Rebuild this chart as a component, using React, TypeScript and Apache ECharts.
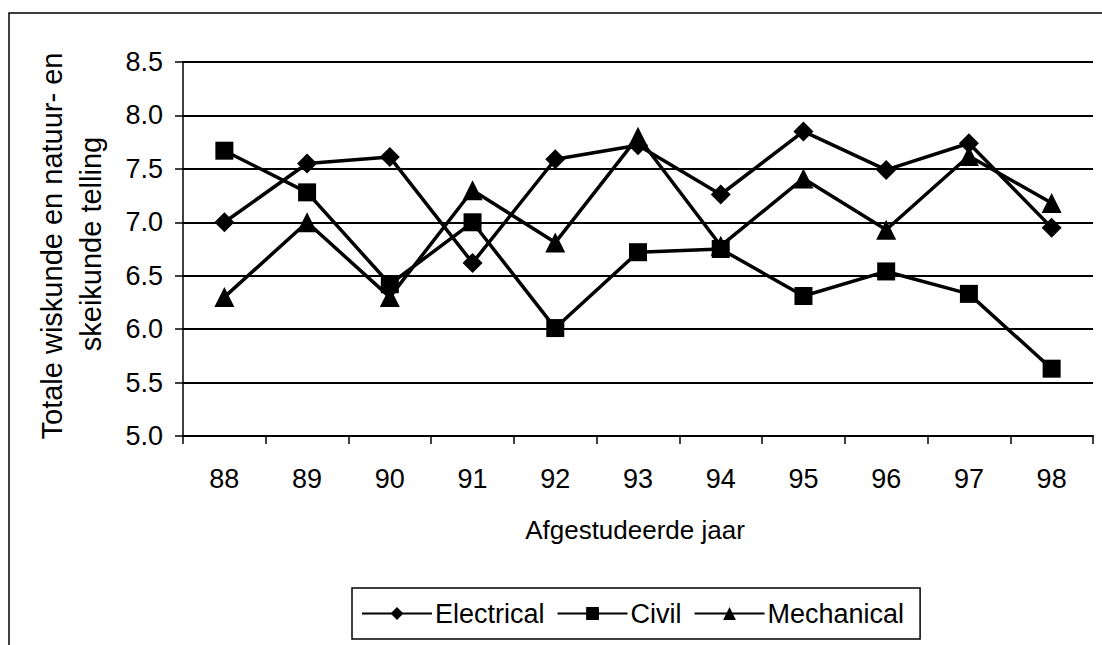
import React, { useEffect, useRef } from "react";
import * as echarts from "echarts";

const categories = ["88", "89", "90", "91", "92", "93", "94", "95", "96", "97", "98"];
const electrical = [7.0, 7.55, 7.61, 6.62, 7.59, 7.72, 7.26, 7.85, 7.49, 7.74, 6.95];
const civil = [7.67, 7.28, 6.42, 7.0, 6.01, 6.72, 6.75, 6.31, 6.54, 6.33, 5.63];
const mechanical = [6.3, 7.0, 6.3, 7.3, 6.81, 7.8, 6.78, 7.41, 6.93, 7.62, 7.18];
const yTitleLines = ["Totale wiskunde en natuur- en", "skeikunde telling"];
const xTitle = "Afgestudeerde jaar";

const FONT = "'Liberation Sans', Arial, sans-serif";

export default function App() {
  const ref = useRef<HTMLDivElement>(null);
  useEffect(() => {
    if (!ref.current) return;
    const chart = echarts.init(ref.current, null, { renderer: "svg" });
    const lineSeries = (name: string, data: number[], symbol: string, size: number) => ({
      name,
      type: "line",
      data,
      symbol,
      symbolSize: size,
      lineStyle: { color: "#000", width: 3.5 },
      itemStyle: { color: "#000", borderWidth: 0 },
      emphasis: { disabled: true },
    });
    chart.setOption({
      animation: false,
      backgroundColor: "#fff",
      textStyle: { fontFamily: FONT, color: "#000" },
      grid: { left: 183, right: 9, top: 62, bottom: 209, containLabel: false },
      xAxis: {
        type: "category",
        data: categories,
        boundaryGap: true,
        axisLine: { show: true, lineStyle: { color: "#000", width: 2 } },
        axisTick: { show: true, length: 8, lineStyle: { color: "#000", width: 1.5 } },
        axisLabel: { color: "#000", fontSize: 27, fontFamily: FONT, margin: 29 },
        splitLine: { show: false },
      },
      yAxis: {
        type: "value",
        min: 5,
        max: 8.5,
        interval: 0.5,
        axisLine: { show: true, lineStyle: { color: "#000", width: 1.5 } },
        axisTick: { show: true, length: 8, lineStyle: { color: "#000", width: 1.5 } },
        axisLabel: {
          color: "#000",
          fontSize: 27,
          fontFamily: FONT,
          margin: 20,
          formatter: (v: number) => v.toFixed(1),
        },
        splitLine: { show: true, lineStyle: { color: "#000", width: 2 } },
      },
      legend: {
        left: 352,
        top: 588,
        orient: "horizontal",
        borderColor: "#000",
        borderWidth: 1.5,
        padding: [12, 16, 12, 9],
        itemGap: 12,
        itemWidth: 70,
        itemHeight: 16,
        textStyle: { color: "#000", fontSize: 27, fontFamily: FONT, padding: [0, 0, 0, -2] },
        data: ["Electrical", "Civil", "Mechanical"],
      },
      graphic: [
        {
          type: "rect",
          shape: { x: 9, y: 13, width: 1200, height: 700 },
          style: { fill: "none", stroke: "#000", lineWidth: 1.5 },
          silent: true,
        },
        {
          type: "text",
          x: 52,
          y: 246,
          rotation: Math.PI / 2,
          style: {
            text: yTitleLines[0],
            fontSize: 29,
            fontFamily: FONT,
            fill: "#000",
            align: "center",
            verticalAlign: "middle",
          },
        },
        {
          type: "text",
          x: 91,
          y: 244,
          rotation: Math.PI / 2,
          style: {
            text: yTitleLines[1],
            fontSize: 29,
            fontFamily: FONT,
            fill: "#000",
            align: "center",
            verticalAlign: "middle",
          },
        },
        {
          type: "text",
          x: 635,
          y: 530,
          style: {
            text: xTitle,
            fontSize: 26,
            fontFamily: FONT,
            fill: "#000",
            align: "center",
            verticalAlign: "middle",
          },
        },
      ],
      series: [
        lineSeries("Electrical", electrical, "diamond", 20),
        lineSeries("Civil", civil, "rect", 18),
        lineSeries("Mechanical", mechanical, "triangle", 20),
      ],
    });
    return () => chart.dispose();
  }, []);
  return (
    <div
      ref={ref}
      style={{ position: "absolute", left: 0, top: 0, width: 1102, height: 645, background: "#fff" }}
    />
  );
}
